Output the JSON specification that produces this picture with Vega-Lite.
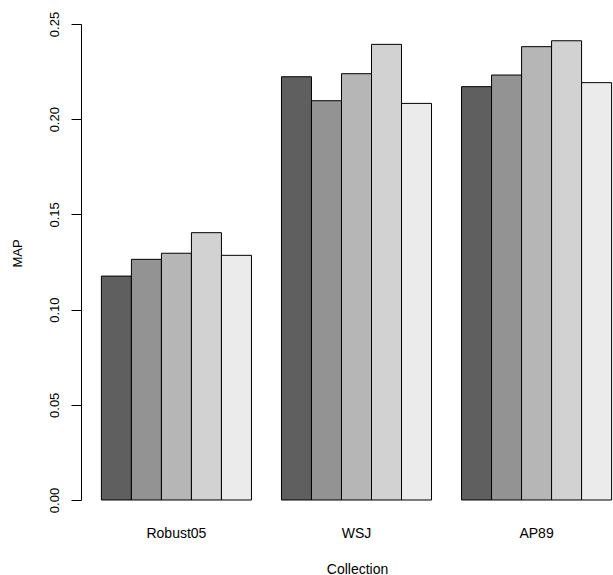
{
  "$schema": "https://vega.github.io/schema/vega-lite/v6.json",
  "width": 532,
  "height": 476,
  "autosize": "none",
  "padding": {"left": 81, "top": 24, "right": 0, "bottom": 75},
  "background": "white",
  "config": {"view": {"stroke": null}, "font": "Liberation Sans"},
  "data": {
    "values": [
      {"collection": "Robust05", "method": "m1", "map": 0.1176},
      {"collection": "Robust05", "method": "m2", "map": 0.1264},
      {"collection": "Robust05", "method": "m3", "map": 0.1296},
      {"collection": "Robust05", "method": "m4", "map": 0.1404},
      {"collection": "Robust05", "method": "m5", "map": 0.1285},
      {"collection": "WSJ", "method": "m1", "map": 0.2223},
      {"collection": "WSJ", "method": "m2", "map": 0.2097},
      {"collection": "WSJ", "method": "m3", "map": 0.2239},
      {"collection": "WSJ", "method": "m4", "map": 0.2393},
      {"collection": "WSJ", "method": "m5", "map": 0.2083},
      {"collection": "AP89", "method": "m1", "map": 0.2171},
      {"collection": "AP89", "method": "m2", "map": 0.2232},
      {"collection": "AP89", "method": "m3", "map": 0.2381},
      {"collection": "AP89", "method": "m4", "map": 0.2412},
      {"collection": "AP89", "method": "m5", "map": 0.2192}
    ]
  },
  "mark": {"type": "bar", "stroke": "#000000", "strokeWidth": 1},
  "encoding": {
    "x": {
      "field": "collection",
      "type": "nominal",
      "sort": ["Robust05", "WSJ", "AP89"],
      "scale": {"range": [0, 551], "paddingInner": 0.16667, "paddingOuter": 0.1133},
      "axis": {
        "title": "Collection",
        "domain": false,
        "ticks": false,
        "tickSize": 0,
        "labelAngle": 0,
        "labelFontSize": 14,
        "labelColor": "#000000",
        "labelBaseline": "alphabetic",
        "labelPadding": 37,
        "titleFontSize": 14,
        "titleFontWeight": "normal",
        "titleColor": "#000000",
        "titleBaseline": "alphabetic",
        "titleX": 276,
        "titleY": 73
      }
    },
    "xOffset": {
      "field": "method",
      "type": "nominal",
      "scale": {"paddingInner": 0, "paddingOuter": 0}
    },
    "y": {
      "field": "map",
      "type": "quantitative",
      "scale": {"domain": [0, 0.25], "nice": false},
      "axis": {
        "title": "MAP",
        "values": [0, 0.05, 0.1, 0.15, 0.2, 0.25],
        "format": ".2f",
        "grid": false,
        "tickSize": 10,
        "tickColor": "#000000",
        "domainColor": "#000000",
        "labelAngle": -90,
        "labelAlign": "center",
        "labelBaseline": "alphabetic",
        "labelPadding": 13,
        "labelFontSize": 13,
        "labelColor": "#000000",
        "titleFontSize": 13,
        "titleFontWeight": "normal",
        "titleColor": "#000000",
        "titleAngle": -90,
        "titleBaseline": "alphabetic",
        "titleAlign": "center",
        "titleX": -60,
        "titleY": 229
      }
    },
    "fill": {
      "field": "method",
      "type": "nominal",
      "scale": {"domain": ["m1", "m2", "m3", "m4", "m5"], "range": ["#5f5f5f", "#939393", "#b6b6b6", "#d2d2d2", "#ebebeb"]},
      "legend": null
    }
  }
}
